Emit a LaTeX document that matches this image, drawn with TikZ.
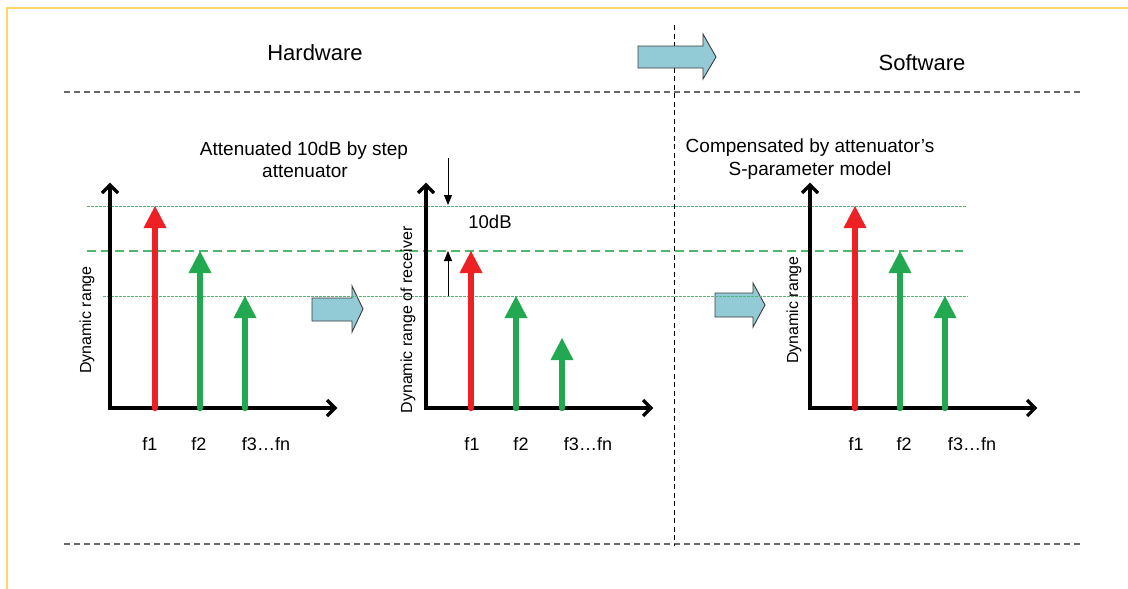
\documentclass[tikz,border=0pt]{standalone}
\usepackage{fontspec}
\setmainfont{Liberation Sans}
\usetikzlibrary{arrows.meta}

\definecolor{frameyellow}{RGB}{255,214,102}
\definecolor{specred}{RGB}{237,32,36}
\definecolor{specgreen}{RGB}{35,168,82}
\definecolor{levelgreen}{RGB}{78,184,112}
\definecolor{blockfill}{RGB}{146,203,214}
\definecolor{blockedge}{RGB}{60,60,60}
\definecolor{divgray}{RGB}{105,105,105}

\begin{document}
\begin{tikzpicture}[x=1pt,y=-1pt,
  frameline/.style={draw=frameyellow,line width=1.6pt},
  divider/.style={draw=divgray,line width=1.2pt,dash pattern=on 6pt off 4pt},
  splitter/.style={draw=black,line width=0.9pt,dash pattern=on 5pt off 3.5pt},
  blockarrow/.style={fill=blockfill,draw=blockedge,line width=0.9pt,line join=miter},
  axisline/.style={draw=black,line width=3.2pt,line join=miter},
  levelfine/.style={draw=levelgreen,line width=1pt,dash pattern=on 2.5pt off 1.5pt},
  levelmid/.style={draw=levelgreen,line width=1.1pt,dash pattern=on 9pt off 5pt},
  gauge/.style={draw=black,line width=0.9pt,-{Triangle[length=10pt,width=8pt]}},
  heading/.style={font=\fontsize{22}{26}\selectfont,inner sep=0pt,anchor=base},
  note/.style={font=\fontsize{19}{22}\selectfont,inner sep=0pt,anchor=base},
  freq/.style={font=\fontsize{18}{21}\selectfont,inner sep=0pt,anchor=base},
  axislabel/.style={font=\fontsize{16}{19}\selectfont,inner sep=0pt,rotate=90}
]
\useasboundingbox (0,0) rectangle (1128,589);
\fill[white] (0,0) rectangle (1128,589);

% outer frame (left and top edges)
\draw[frameline] (7,589) -- (7,8) -- (1128,8);

% section dividers
\draw[divider] (64,92) -- (1080,92);
\draw[divider] (64,544) -- (1080,544);
\draw[splitter] (674,25) -- (674,546);

% block arrows
\draw[blockarrow] (638,46) -- (703,46) -- (703,34) -- (716,57) -- (703,79) -- (703,68) -- (638,68) -- cycle;
\draw[blockarrow] (312,298) -- (352,298) -- (352,286) -- (363,309) -- (352,332) -- (352,321) -- (312,321) -- cycle;
\draw[blockarrow] (715,293) -- (753,293) -- (753,283) -- (765,305) -- (753,327) -- (753,317) -- (715,317) -- cycle;

% reference levels
\draw[levelfine] (87,206) -- (967,206);
\draw[levelmid] (87,251) -- (963,251);
\draw[levelfine] (103,296) -- (968,296);

% axes
\foreach \ox/\xt in {110/337, 426/653, 810/1037}{
  \draw[axisline] (\ox,185) -- (\ox,408) -- ({\xt-2},408);
  \draw[axisline] ({\ox-8},193) -- (\ox,185) -- ({\ox+8},193);
  \draw[axisline] ({\xt-10},400) -- ({\xt-2},408) -- ({\xt-10},416);
}

% spectral components
\foreach \fx/\ty/\c in {155/206/specred, 200/251/specgreen, 245/296/specgreen,
                         471/251/specred, 516/296/specgreen, 562/338/specgreen,
                         855/206/specred, 900/251/specgreen, 945/296/specgreen}{
  \draw[\c,line width=6.5pt,line cap=round] (\fx,408) -- (\fx,{\ty+20});
  \fill[\c] ({\fx-11.5},{\ty+22}) -- (\fx,\ty) -- ({\fx+11.5},{\ty+22}) -- cycle;
}

% 10 dB step markers
\coordinate (gtop) at (448,158);
\coordinate (gtopend) at (448,205);
\coordinate (gbot) at (448,296);
\coordinate (gbotend) at (448,251);
\draw[gauge] (gtop) -- (gtopend);
\draw[gauge] (gbot) -- (gbotend);
\node[note,font=\fontsize{18.5}{22}\selectfont] (step) at (490,228) {10dB};

% headings and notes
\node[heading] (hw) at (315,60) {Hardware};
\node[heading] (sw) at (922,70) {Software};
\node[note] (att1) at (304,155) {Attenuated 10dB by step};
\node[note] (att2) at (305,177) {attenuator};
\node[note] (comp1) at (810,152) {Compensated by attenuator’s};
\node[note] (comp2) at (810,175) {S-parameter model};

% axis labels
\node[axislabel] (dr1) at (87,320) {Dynamic range};
\node[axislabel] (dr2) at (408,320) {Dynamic range of receiver};
\node[axislabel] (dr3) at (794,310) {Dynamic range};

% frequency labels
\node[freq] (fa1) at (150,450) {f1};
\node[freq] (fa2) at (199,450) {f2};
\node[freq] (fa3) at (266,450) {f3…fn};
\node[freq] (fb1) at (472,450) {f1};
\node[freq] (fb2) at (521,450) {f2};
\node[freq] (fb3) at (588,450) {f3…fn};
\node[freq] (fc1) at (856,450) {f1};
\node[freq] (fc2) at (904,450) {f2};
\node[freq] (fc3) at (972,450) {f3…fn};
\end{tikzpicture}
\end{document}
